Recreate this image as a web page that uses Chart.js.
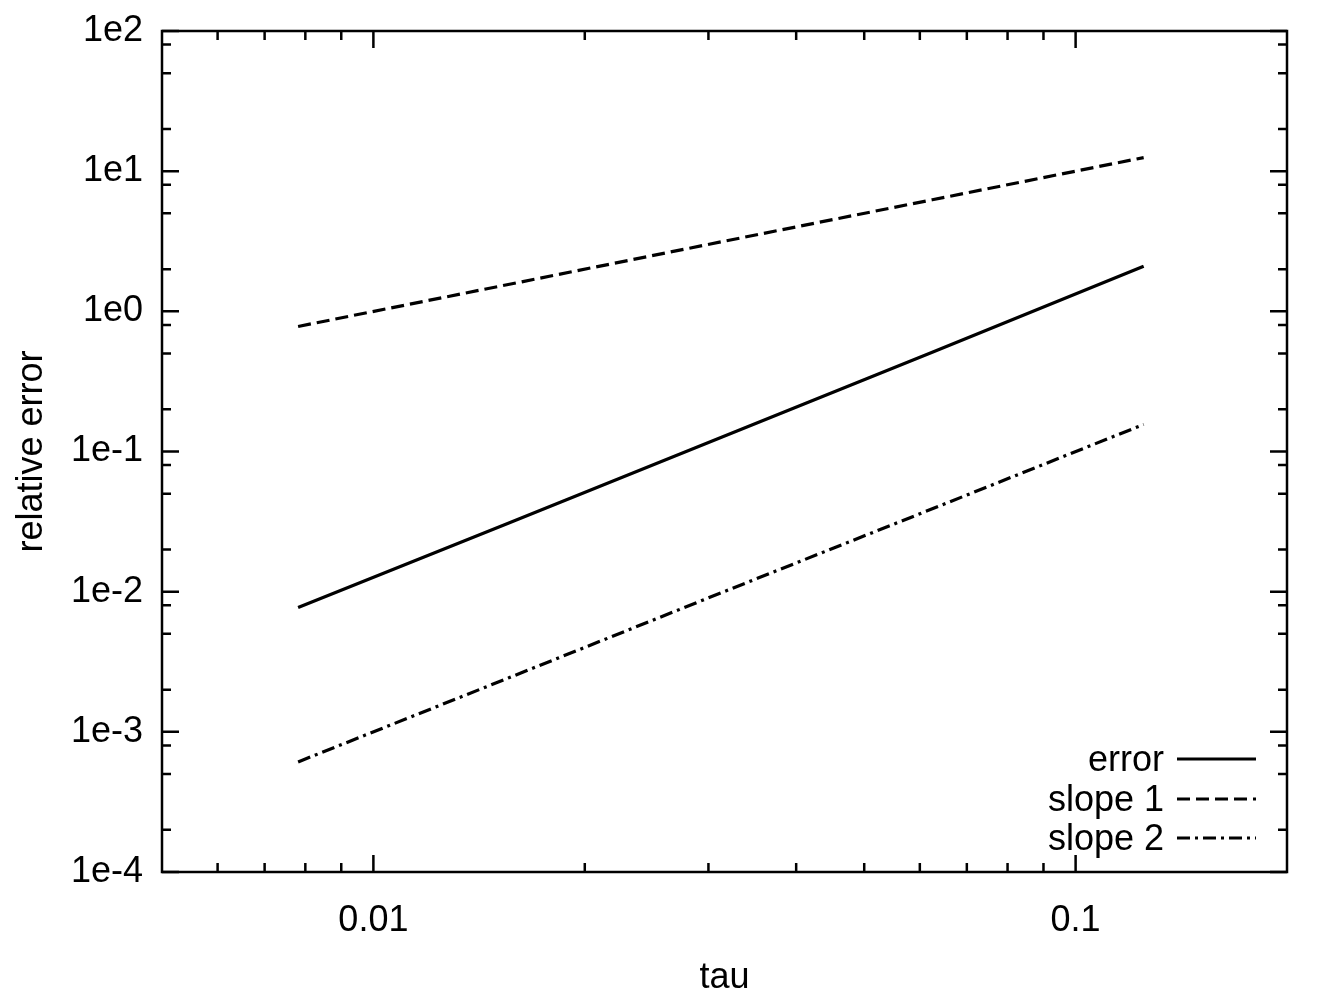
<!DOCTYPE html>
<html>
<head>
<meta charset="utf-8">
<script src="https://cdn.jsdelivr.net/npm/chart.js@4.4.0/dist/chart.umd.min.js"></script>
<style>
  html, body { margin: 0; padding: 0; background: #fff; }
</style>
</head>
<body>
<canvas id="errChart" width="1334" height="1000"></canvas>
<script>
// step sizes and the measured / reference values
var tau = [0.0078125, 0.015625, 0.03125, 0.0625, 0.125];
var errorValues = [0.0077, 0.031, 0.126, 0.51, 2.1];
var slope1Values = [0.78, 1.56, 3.13, 6.25, 12.5];
var slope2Values = [0.00061, 0.00244, 0.0098, 0.039, 0.156];
var seriesNames = ["error", "slope 1", "slope 2"];

// axis ticks
var xMajorTicks = [0.01, 0.1];
var xTickLabels = ["0.01", "0.1"];
var xMinorTicks = [0.006, 0.007, 0.008, 0.009, 0.02, 0.03, 0.04, 0.05, 0.06, 0.07, 0.08, 0.09];
var yMajorTicks = [1e2, 1e1, 1e0, 1e-1, 1e-2, 1e-3, 1e-4];
var yTickLabels = ["1e2", "1e1", "1e0", "1e-1", "1e-2", "1e-3", "1e-4"];
var yMinorTicks = [2e-4, 5e-4, 8e-4, 2e-3, 5e-3, 8e-3, 2e-2, 5e-2, 8e-2,
                   2e-1, 5e-1, 8e-1, 2, 5, 8, 20, 50, 80];

var FONT = "'Liberation Sans', Arial, Helvetica, sans-serif";
var FSIZE = 36;

function pts(ys) {
    return tau.map(function (t, i) { return { x: t, y: ys[i] }; });
}

// frame, inward ticks on all four sides, and the legend in the corner
var gnuplotFrame = {
    id: 'gnuplotFrame',
    afterDraw: function (chart) {
        var ctx = chart.ctx;
        var a = chart.chartArea;
        var xs = chart.scales.x, ys = chart.scales.y;
        ctx.save();
        ctx.strokeStyle = '#000';
        ctx.lineWidth = 2.5;
        ctx.lineCap = 'butt';
        ctx.beginPath();
        function xt(v, len) {
            var p = xs.getPixelForValue(v);
            ctx.moveTo(p, a.bottom); ctx.lineTo(p, a.bottom - len);
            ctx.moveTo(p, a.top); ctx.lineTo(p, a.top + len);
        }
        function yt(v, len) {
            var p = ys.getPixelForValue(v);
            ctx.moveTo(a.left, p); ctx.lineTo(a.left + len, p);
            ctx.moveTo(a.right, p); ctx.lineTo(a.right - len, p);
        }
        xMajorTicks.forEach(function (v) { xt(v, 17); });
        xMinorTicks.forEach(function (v) { xt(v, 9); });
        yMajorTicks.forEach(function (v) { yt(v, 17); });
        yMinorTicks.forEach(function (v) { yt(v, 9); });
        ctx.stroke();
        ctx.strokeRect(a.left, a.top, a.right - a.left, a.bottom - a.top);

        // legend
        ctx.font = FSIZE + 'px ' + FONT;
        ctx.fillStyle = '#000';
        ctx.textAlign = 'right';
        ctx.textBaseline = 'middle';
        var rowY = [759, 799, 838];
        chart.data.datasets.forEach(function (ds, i) {
            ctx.fillText(ds.label, 1164, rowY[i] + 2);
            ctx.save();
            ctx.lineWidth = 3;
            ctx.setLineDash(ds.borderDash || []);
            ctx.beginPath();
            ctx.moveTo(1177, rowY[i]);
            ctx.lineTo(1256, rowY[i]);
            ctx.stroke();
            ctx.restore();
        });
        ctx.restore();
    }
};

var chartContainer = document.getElementById("errChart");
var errChart = new Chart(chartContainer, {
    type: 'line',
    data: {
        datasets: [{
            label: seriesNames[0],
            data: pts(errorValues),
            borderColor: '#000',
            borderWidth: 3.2,
            pointRadius: 0,
            fill: false
        }, {
            label: seriesNames[1],
            data: pts(slope1Values),
            borderColor: '#000',
            borderWidth: 3.2,
            borderDash: [13, 6],
            pointRadius: 0,
            fill: false
        }, {
            label: seriesNames[2],
            data: pts(slope2Values),
            borderColor: '#000',
            borderWidth: 3.2,
            borderDash: [13, 5, 3, 5],
            pointRadius: 0,
            fill: false
        }]
    },
    options: {
        responsive: false,
        animation: false,
        layout: { padding: { top: 31, right: 47, left: 0, bottom: 0 } },
        plugins: {
            legend: { display: false },
            tooltip: { enabled: false }
        },
        scales: {
            x: {
                type: 'logarithmic',
                min: 0.005,
                max: 0.2,
                afterBuildTicks: function (scale) {
                    scale.ticks = xMajorTicks.map(function (v) { return { value: v }; });
                },
                afterFit: function (scale) {
                    scale.height = 128;
                    scale.paddingLeft = 0;
                    scale.paddingRight = 0;
                },
                grid: { display: false },
                border: { display: false },
                ticks: {
                    autoSkip: false,
                    maxRotation: 0,
                    padding: 19,
                    color: '#000',
                    font: { family: FONT, size: FSIZE },
                    callback: function (v) { return xTickLabels[xMajorTicks.indexOf(v)]; }
                },
                title: {
                    display: true,
                    text: 'tau',
                    color: '#000',
                    font: { family: FONT, size: FSIZE },
                    padding: { top: 0, bottom: 0 }
                }
            },
            y: {
                type: 'logarithmic',
                min: 1e-4,
                max: 1e2,
                afterBuildTicks: function (scale) {
                    scale.ticks = yMajorTicks.map(function (v) { return { value: v }; });
                },
                afterFit: function (scale) {
                    scale.width = 162;
                    scale.paddingTop = 0;
                    scale.paddingBottom = 0;
                },
                grid: { display: false },
                border: { display: false },
                ticks: {
                    autoSkip: false,
                    padding: 11,
                    color: '#000',
                    font: { family: FONT, size: FSIZE },
                    callback: function (v) { return yTickLabels[yMajorTicks.indexOf(v)]; }
                },
                title: {
                    display: true,
                    text: 'relative error',
                    color: '#000',
                    font: { family: FONT, size: FSIZE },
                    padding: { top: 10, bottom: 10 }
                }
            }
        }
    },
    plugins: [gnuplotFrame]
});
</script>
</body>
</html>
